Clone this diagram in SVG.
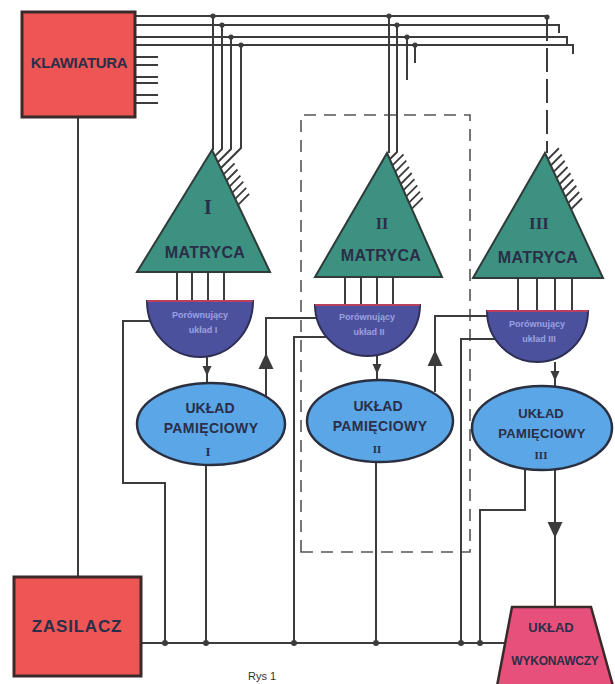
<svg xmlns="http://www.w3.org/2000/svg" width="615" height="684" viewBox="0 0 615 684">
<style>
.ln{fill:none;stroke:#3c3c3c;stroke-width:2;stroke-linejoin:miter}
.tk{fill:none;stroke:#3c3c3c;stroke-width:1.8}
.dash{fill:none;stroke:#555;stroke-width:1.6;stroke-dasharray:12 8}
.dashl{fill:none;stroke:#3c3c3c;stroke-width:2;stroke-dasharray:24 7}
.dot{fill:#3c3c3c}
.red{fill:#ee5555;stroke:#3a2a2a;stroke-width:3}
.tri{fill:#3d9181;stroke:#2f3b38;stroke-width:2}
.cmp{fill:#4c519e;stroke:#2f2f55;stroke-width:2}
.mem{fill:#5aa6e6;stroke:#2a3040;stroke-width:2.5}
.wyk{fill:#e8507c;stroke:#3a2a2a;stroke-width:2.5}
.t{font-family:"Liberation Sans",Arial,sans-serif;font-weight:bold;text-anchor:middle;fill:#2a2e48}
.rn{font-family:"Liberation Serif","Times New Roman",serif;font-weight:bold;text-anchor:middle;fill:#2a2e48}
.ct{font-family:"Liberation Sans",Arial,sans-serif;font-weight:bold;text-anchor:middle;fill:#9aa2e2;font-size:9px}
.arr{fill:#3c3c3c}
</style>
<defs>
<path id="bigUp" d="M0,-8 L7.5,8 L-7.5,8 Z"/>
<path id="bigDown" d="M0,8 L7.5,-8 L-7.5,-8 Z"/>
<path id="smDown" d="M0,5 L4.5,-5 L-4.5,-5 Z"/>
</defs>

<g id="dashed-frame">
<path class="dash" d="M301,552 V115 H470 V552 Z"/>
</g>

<g id="connectors">
<path class="ln" d="M136,16 H547"/>
<path class="ln" d="M136,25 H559 V33"/>
<path class="ln" d="M136,37 H567 V45"/>
<path class="ln" d="M136,45 H573 V54"/>
<path class="ln" d="M135,57 H158 M135,65 H158 M135,77 H158 M135,83 H158 M135,95 H158 M135,103 H158"/>
<path class="ln" d="M213,16 V150"/>
<path class="ln" d="M222,25 V149 L214.9,156.1"/>
<path class="ln" d="M231,37 V149 L217.8,162.2"/>
<path class="ln" d="M241,45 V148 L220.7,168.3"/>
<path class="ln" d="M389,16 V153"/>
<path class="ln" d="M397,25 V152 L389.75,159.2"/>
<path class="ln" d="M407,37 V80"/>
<path class="ln" d="M415,45 V63"/>
<path class="dashl" d="M547,17 V153"/>
<circle class="dot" cx="213" cy="16" r="2.6"/>
<circle class="dot" cx="222" cy="25" r="2.6"/>
<circle class="dot" cx="231" cy="37" r="2.6"/>
<circle class="dot" cx="241" cy="45" r="2.6"/>
<circle class="dot" cx="389" cy="16" r="2.6"/>
<circle class="dot" cx="397" cy="25" r="2.6"/>
<circle class="dot" cx="407" cy="37" r="2.6"/>
<circle class="dot" cx="415" cy="45" r="2.6"/>
<circle class="dot" cx="547" cy="17" r="2.6"/>
<path class="ln" d="M78,117 V577"/>
<path class="ln" d="M177,272 V302 M192,272 V302 M208,272 V302 M224,272 V302"/>
<path class="ln" d="M345,277 V306 M361,277 V306 M377,277 V306 M393,277 V306"/>
<path class="ln" d="M518,278 V312 M537,278 V312 M555,278 V312 M572,278 V312"/>
<path class="ln" d="M207,357 V384"/>
<use href="#smDown" x="207" y="371" class="arr"/>
<path class="ln" d="M377,355 V381"/>
<use href="#smDown" x="377" y="369" class="arr"/>
<path class="ln" d="M555,362 V388"/>
<use href="#smDown" x="555" y="376" class="arr"/>
<path class="ln" d="M150,321 H123 V483 H165 V644"/>
<path class="ln" d="M266,400 V318 H320"/>
<use href="#bigUp" x="266" y="361" class="arr"/>
<path class="ln" d="M326,337 H294 V644"/>
<path class="ln" d="M435,392 V316 H492"/>
<use href="#bigUp" x="435" y="358" class="arr"/>
<path class="ln" d="M498,339 H461 V644"/>
<path class="ln" d="M206,464 V644"/>
<path class="ln" d="M376,461 V644"/>
<path class="ln" d="M525,466 V510 H480 V644"/>
<path class="ln" d="M555,469 V608"/>
<use href="#bigDown" x="555" y="530" class="arr"/>
<path class="ln" d="M141,643 H513"/>
<circle class="dot" cx="165" cy="643" r="3"/>
<circle class="dot" cx="206" cy="643" r="3"/>
<circle class="dot" cx="294" cy="643" r="3"/>
<circle class="dot" cx="376" cy="643" r="3"/>
<circle class="dot" cx="461" cy="643" r="3"/>
<circle class="dot" cx="480" cy="643" r="3"/>
</g>

<g id="klawiatura">
<rect class="red" x="22" y="12" width="113" height="105"/>
<text class="t" x="79" y="68" font-size="15" letter-spacing="-0.3">KLAWIATURA</text>
</g>

<g id="zasilacz">
<rect class="red" x="14" y="577" width="127" height="99"/>
<text class="t" x="77" y="632" font-size="17" letter-spacing="0.8">ZASILACZ</text>
</g>

<g id="matryca1">
<path class="tri" d="M212,150 L270,272 L137,272 Z"/>
<path class="tk" d="M223.6,174.4 l11,-11 M226.5,180.5 l11,-11 M229.4,186.6 l11,-11 M232.3,192.7 l11,-11 M235.2,198.8 l11,-11 M238.1,204.9 l11,-11"/>
<text class="rn" x="208" y="214" font-size="20">I</text>
<text class="t" x="205" y="258" font-size="16" letter-spacing="0.3">MATRYCA</text>
</g>

<g id="matryca2">
<path class="tri" d="M387,153 L442,277 L315,277 Z"/>
<path class="tk" d="M392.5,165.4 l11,-11 M395.25,171.6 l11,-11 M398,177.8 l11,-11 M400.75,184 l11,-11 M403.5,190.2 l11,-11 M406.25,196.4 l11,-11 M409,202.6 l11,-11 M411.75,208.8 l11,-11"/>
<text class="rn" x="382" y="229" font-size="16">II</text>
<text class="t" x="381" y="261" font-size="16" letter-spacing="0.3">MATRYCA</text>
</g>

<g id="matryca3">
<path class="tri" d="M545,153 L603,278 L473,278 Z"/>
<path class="tk" d="M547.9,159.25 l11,-11 M550.8,165.5 l11,-11 M553.7,171.75 l11,-11 M556.6,178 l11,-11 M559.5,184.25 l11,-11 M562.4,190.5 l11,-11 M565.3,196.75 l11,-11 M568.2,203 l11,-11 M571.1,209.25 l11,-11"/>
<text class="rn" x="539" y="229" font-size="17">III</text>
<text class="t" x="538" y="263" font-size="16" letter-spacing="0.3">MATRYCA</text>
</g>

<g id="porownujacy1">
<path class="cmp" d="M147,301 H253 A53,56 0 0 1 147,301 Z"/>
<path d="M147,301 H253" stroke="#b8405e" stroke-width="2"/>
<text class="ct" x="200" y="318">Porównujący</text>
<text class="ct" x="203" y="333">układ I</text>
</g>

<g id="porownujacy2">
<path class="cmp" d="M315,305 H420 A52.5,51 0 0 1 315,305 Z"/>
<path d="M315,305 H420" stroke="#b8405e" stroke-width="2"/>
<text class="ct" x="367" y="320">Porównujący</text>
<text class="ct" x="369" y="335">układ II</text>
</g>

<g id="porownujacy3">
<path class="cmp" d="M487,311 H588 A50.5,51 0 0 1 487,311 Z"/>
<path d="M487,311 H588" stroke="#b8405e" stroke-width="2"/>
<text class="ct" x="537" y="327">Porównujący</text>
<text class="ct" x="539" y="342">układ III</text>
</g>

<g id="pamiec1">
<ellipse class="mem" cx="211" cy="424" rx="74" ry="41"/>
<text class="t" x="210" y="413" font-size="14">UKŁAD</text>
<text class="t" x="211" y="433" font-size="14" letter-spacing="0.4">PAMIĘCIOWY</text>
<text class="rn" x="208" y="456" font-size="13">I</text>
</g>

<g id="pamiec2">
<ellipse class="mem" cx="380" cy="421" rx="73" ry="41"/>
<text class="t" x="378" y="411" font-size="14">UKŁAD</text>
<text class="t" x="380" y="431" font-size="14" letter-spacing="0.4">PAMIĘCIOWY</text>
<text class="rn" x="377" y="453" font-size="11">II</text>
</g>

<g id="pamiec3">
<ellipse class="mem" cx="542" cy="428" rx="70" ry="42"/>
<text class="t" x="541" y="418" font-size="13">UKŁAD</text>
<text class="t" x="542" y="438" font-size="13" letter-spacing="0.3">PAMIĘCIOWY</text>
<text class="rn" x="541" y="459" font-size="11">III</text>
</g>

<g id="wykonawczy">
<path class="wyk" d="M512,607 H591 L613,686 H497 Z"/>
<text class="t" x="551" y="632" font-size="13">UKŁAD</text>
<text class="t" x="555" y="665" font-size="12" letter-spacing="-0.2">WYKONAWCZY</text>
</g>

<g id="caption">
<text x="262" y="680" font-family="Liberation Sans,Arial,sans-serif" font-size="11" fill="#333" text-anchor="middle">Rys 1</text>
</g>
</svg>
